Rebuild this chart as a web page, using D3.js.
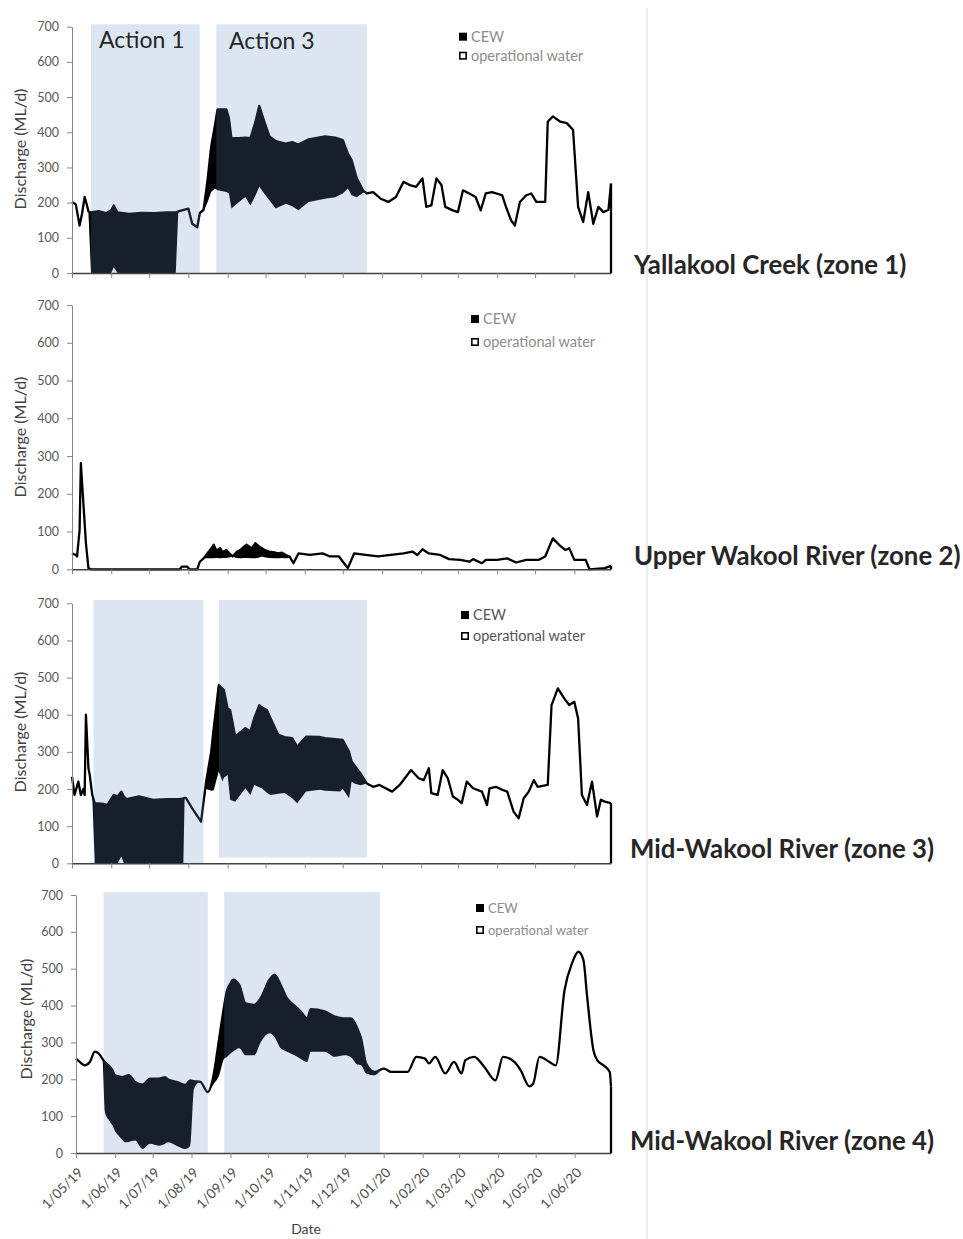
<!DOCTYPE html>
<html>
<head>
  <meta charset="utf-8">
  <title>Discharge by zone</title>
  <script src="https://d3js.org/d3.v7.min.js"></script>
  <style>
    body {
      margin: 0;
      background: #fff;
      font-family: Lato, "Open Sans", sans-serif;
    }
    .tick text {
      font-family: Lato, sans-serif;
      fill: #595959;
    }
    .zone-title {
      font-weight: bold;
      font-size: 25.8px;
      fill: #262626;
    }
    .axis-title {
      font-size: 16px;
      fill: #404040;
      text-anchor: middle;
    }
  </style>
</head>
<body>
  <div id="chart"></div>

  <script>
    const parse = d3.timeParse("%Y-%m-%d");

    // x axis: month starts and their labels
    const monthTicks = ["2019-05-01", "2019-06-01", "2019-07-01", "2019-08-01", "2019-09-01", "2019-10-01", "2019-11-01",
      "2019-12-01", "2020-01-01", "2020-02-01", "2020-03-01", "2020-04-01", "2020-05-01", "2020-06-01"];
    const tickLabels = ["1/05/19", "1/06/19", "1/07/19", "1/08/19", "1/09/19", "1/10/19", "1/11/19",
      "1/12/19", "1/01/20", "1/02/20", "1/03/20", "1/04/20", "1/05/20", "1/06/20"];
    const yTicks = [0, 100, 200, 300, 400, 500, 600, 700];

    const zoneTitles = ["Yallakool Creek (zone 1)", "Upper Wakool River (zone 2)", "Mid-Wakool River (zone 3)", "Mid-Wakool River (zone 4)"];
    const actionNames = ["Action 1", "Action 3"];
    const legendNames = ["CEW", "operational water"];

    // zone 1 - Yallakool Creek (total discharge, operational water part)
    const z1Dates = ["2019-05-01", "2019-05-04", "2019-05-07", "2019-05-09", "2019-05-11", "2019-05-13", "2019-05-14", "2019-05-16",
      "2019-05-22", "2019-05-28", "2019-06-01", "2019-06-03", "2019-06-06", "2019-06-15", "2019-06-25", "2019-07-05", "2019-07-15",
      "2019-07-22", "2019-07-24", "2019-07-29", "2019-08-01", "2019-08-04", "2019-08-08", "2019-08-10", "2019-08-13", "2019-08-16",
      "2019-08-19", "2019-08-22", "2019-08-24", "2019-08-31", "2019-09-02", "2019-09-04", "2019-09-10", "2019-09-15", "2019-09-19",
      "2019-09-23", "2019-09-26", "2019-09-30", "2019-10-04", "2019-10-09", "2019-10-17", "2019-10-22", "2019-10-27", "2019-11-04",
      "2019-11-17", "2019-11-25", "2019-12-01", "2019-12-05", "2019-12-08", "2019-12-12", "2019-12-17", "2019-12-20", "2019-12-25",
      "2019-12-31", "2020-01-06", "2020-01-12", "2020-01-18", "2020-01-23", "2020-01-28", "2020-02-02", "2020-02-05", "2020-02-09",
      "2020-02-13", "2020-02-17", "2020-02-20", "2020-02-26", "2020-03-01", "2020-03-05", "2020-03-10", "2020-03-15", "2020-03-19",
      "2020-03-23", "2020-03-28", "2020-04-05", "2020-04-08", "2020-04-12", "2020-04-15", "2020-04-19", "2020-04-24", "2020-04-28",
      "2020-05-02", "2020-05-09", "2020-05-11", "2020-05-15", "2020-05-21", "2020-05-26", "2020-05-31", "2020-06-04", "2020-06-08",
      "2020-06-12", "2020-06-16", "2020-06-20", "2020-06-24", "2020-06-28", "2020-06-30"];
    const z1Total = [202, 195, 135, 170, 216, 190, 175, 172,
      176, 170, 178, 192, 172, 168, 171, 170, 172,
      172, 175, 180, 183, 140, 130, 170, 180, 260,
      360, 420, 465, 465, 440, 383, 383, 385, 383,
      430, 475, 430, 388, 375, 368, 372, 365, 380,
      388, 385, 378, 340, 321, 270, 235, 226, 230,
      211, 202, 216, 259, 250, 245, 269, 188, 192,
      269, 250, 188, 178, 173, 235, 226, 216, 178,
      226, 230, 221, 188, 150, 135, 202, 221, 226,
      202, 202, 430, 445, 430, 426, 407, 188, 145,
      230, 140, 188, 173, 180, 254];
    const z1Oper = [202, 195, 135, 170, 216, 190, 170, 0,
      0, 0, 0, 16, 0, 0, 0, 0, 0,
      0, 172, 180, 183, 140, 130, 170, 175, 200,
      230, 240, 235, 230, 226, 183, 202, 216, 192,
      220, 245, 225, 207, 183, 197, 190, 178, 202,
      211, 215, 226, 240, 221, 215, 228, 226, 230,
      211, 202, 216, 259, 250, 245, 269, 188, 192,
      269, 250, 188, 178, 173, 235, 226, 216, 178,
      226, 230, 221, 188, 150, 135, 202, 221, 226,
      202, 202, 430, 445, 430, 426, 407, 188, 145,
      230, 140, 188, 173, 180, 254];

    // zone 2 - Upper Wakool River
    const z2Dates = ["2019-05-01", "2019-05-04", "2019-05-05", "2019-05-07", "2019-05-08", "2019-05-10", "2019-05-12", "2019-05-14",
      "2019-05-16", "2019-07-25", "2019-07-27", "2019-07-31", "2019-08-02", "2019-08-08", "2019-08-10", "2019-08-13", "2019-08-16",
      "2019-08-19", "2019-08-21", "2019-08-23", "2019-08-26", "2019-08-28", "2019-08-31", "2019-09-03", "2019-09-05", "2019-09-08",
      "2019-09-11", "2019-09-14", "2019-09-16", "2019-09-20", "2019-09-23", "2019-09-26", "2019-09-28", "2019-10-01", "2019-10-04",
      "2019-10-08", "2019-10-11", "2019-10-14", "2019-10-17", "2019-10-20", "2019-10-23", "2019-10-27", "2019-11-05", "2019-11-15",
      "2019-11-21", "2019-11-28", "2019-12-02", "2019-12-05", "2019-12-10", "2019-12-19", "2019-12-29", "2020-01-08", "2020-01-18",
      "2020-01-25", "2020-01-29", "2020-02-02", "2020-02-07", "2020-02-16", "2020-02-23", "2020-03-03", "2020-03-10", "2020-03-13",
      "2020-03-20", "2020-03-23", "2020-04-01", "2020-04-09", "2020-04-16", "2020-04-24", "2020-05-04", "2020-05-09", "2020-05-15",
      "2020-05-20", "2020-05-25", "2020-05-28", "2020-06-01", "2020-06-10", "2020-06-13", "2020-06-25", "2020-06-30"];
    const z2Total = [42, 38, 34, 104, 281, 175, 69, 3,
      0, 0, 7, 7, 0, 0, 20, 29, 42,
      55, 65, 50, 56, 45, 51, 40, 34, 45,
      51, 60, 65, 55, 69, 60, 56, 50, 47,
      45, 42, 44, 38, 34, 16, 42, 38, 42,
      34, 34, 16, 3, 42, 38, 34, 38, 42,
      47, 38, 53, 42, 38, 27, 25, 20, 27,
      16, 25, 25, 29, 18, 25, 25, 34, 82,
      65, 51, 56, 25, 25, 0, 3, 9];
    const z2Oper = [42, 38, 34, 104, 281, 175, 69, 3,
      0, 0, 7, 7, 0, 0, 20, 29, 29,
      29, 29, 30, 29, 30, 30, 32, 34, 30,
      29, 30, 30, 29, 29, 31, 34, 31, 30,
      29, 29, 30, 29, 30, 16, 42, 38, 42,
      34, 34, 16, 3, 42, 38, 34, 38, 42,
      47, 38, 53, 42, 38, 27, 25, 20, 27,
      16, 25, 25, 29, 18, 25, 25, 34, 82,
      65, 51, 56, 25, 25, 0, 3, 9];

    // zone 3 - Mid-Wakool River
    const z3Dates = ["2019-05-01", "2019-05-03", "2019-05-06", "2019-05-08", "2019-05-10", "2019-05-11", "2019-05-12", "2019-05-14",
      "2019-05-15", "2019-05-17", "2019-05-19", "2019-05-26", "2019-05-29", "2019-06-03", "2019-06-06", "2019-06-09", "2019-06-11",
      "2019-06-13", "2019-06-23", "2019-07-04", "2019-07-15", "2019-07-25", "2019-07-28", "2019-07-29", "2019-07-30", "2019-08-04",
      "2019-08-11", "2019-08-15", "2019-08-19", "2019-08-21", "2019-08-25", "2019-08-28", "2019-08-29", "2019-09-01", "2019-09-03",
      "2019-09-07", "2019-09-15", "2019-09-19", "2019-09-22", "2019-09-26", "2019-09-28", "2019-10-02", "2019-10-05", "2019-10-11",
      "2019-10-16", "2019-10-22", "2019-10-26", "2019-11-02", "2019-11-13", "2019-11-17", "2019-11-29", "2019-12-01", "2019-12-06",
      "2019-12-08", "2019-12-10", "2019-12-15", "2019-12-20", "2019-12-25", "2019-12-30", "2020-01-09", "2020-01-15", "2020-01-24",
      "2020-01-30", "2020-02-03", "2020-02-07", "2020-02-09", "2020-02-14", "2020-02-18", "2020-02-22", "2020-02-26", "2020-03-01",
      "2020-03-04", "2020-03-08", "2020-03-13", "2020-03-20", "2020-03-24", "2020-03-26", "2020-03-31", "2020-04-05", "2020-04-09",
      "2020-04-14", "2020-04-18", "2020-04-22", "2020-04-26", "2020-04-30", "2020-05-03", "2020-05-11", "2020-05-14", "2020-05-19",
      "2020-05-24", "2020-05-28", "2020-06-01", "2020-06-04", "2020-06-07", "2020-06-11", "2020-06-15", "2020-06-19", "2020-06-22",
      "2020-06-25", "2020-06-30"];
    const z3Total = [233, 184, 220, 184, 200, 184, 400, 256,
      238, 184, 162, 160, 157, 184, 180, 193, 180,
      173, 180, 171, 173, 173, 175, 176, 176, 148,
      112, 220, 300, 364, 480, 470, 467, 417, 413,
      341, 364, 355, 390, 426, 420, 413, 390, 346,
      340, 337, 314, 341, 340, 337, 333, 332, 300,
      274, 265, 242, 215, 206, 211, 193, 211, 251,
      229, 224, 256, 189, 184, 251, 229, 180, 171,
      162, 220, 202, 193, 157, 202, 206, 198, 193,
      139, 121, 175, 193, 224, 206, 211, 426, 471,
      444, 426, 435, 390, 184, 157, 220, 126, 171,
      166, 162];
    const z3Oper = [233, 184, 220, 184, 200, 184, 400, 256,
      238, 184, 0, 0, 0, 0, 0, 18, 0,
      0, 0, 0, 0, 0, 0, 176, 176, 148,
      112, 200, 195, 197, 247, 220, 230, 238, 171,
      166, 202, 184, 211, 205, 202, 190, 184, 187,
      189, 175, 162, 193, 198, 195, 193, 200, 175,
      220, 215, 210, 215, 206, 211, 193, 211, 251,
      229, 224, 256, 189, 184, 251, 229, 180, 171,
      162, 220, 202, 193, 157, 202, 206, 198, 193,
      139, 121, 175, 193, 224, 206, 211, 426, 471,
      444, 426, 435, 390, 184, 157, 220, 126, 171,
      166, 162];

    // zone 4 - Mid-Wakool River
    const z4Dates = ["2019-05-01", "2019-05-04", "2019-05-08", "2019-05-12", "2019-05-16", "2019-05-19", "2019-05-22", "2019-05-24",
      "2019-05-28", "2019-05-30", "2019-06-01", "2019-06-04", "2019-06-07", "2019-06-09", "2019-06-12", "2019-06-17", "2019-06-23",
      "2019-06-29", "2019-07-06", "2019-07-11", "2019-07-13", "2019-07-20", "2019-07-27", "2019-07-31", "2019-08-03", "2019-08-08",
      "2019-08-14", "2019-08-18", "2019-08-23", "2019-08-27", "2019-08-29", "2019-09-01", "2019-09-03", "2019-09-08", "2019-09-13",
      "2019-09-20", "2019-09-25", "2019-10-02", "2019-10-06", "2019-10-11", "2019-10-16", "2019-10-22", "2019-10-27", "2019-11-01",
      "2019-11-04", "2019-11-15", "2019-11-23", "2019-12-01", "2019-12-06", "2019-12-11", "2019-12-14", "2019-12-18", "2019-12-25",
      "2020-01-01", "2020-01-07", "2020-01-20", "2020-01-27", "2020-02-03", "2020-02-06", "2020-02-11", "2020-02-19", "2020-02-26",
      "2020-03-03", "2020-03-06", "2020-03-13", "2020-03-21", "2020-03-30", "2020-04-05", "2020-04-14", "2020-04-19", "2020-04-26",
      "2020-04-29", "2020-05-04", "2020-05-12", "2020-05-17", "2020-05-24", "2020-05-30", "2020-06-04", "2020-06-08", "2020-06-11",
      "2020-06-16", "2020-06-19", "2020-06-24", "2020-06-29", "2020-06-30"];
    const z4Total = [256, 247, 238, 247, 275, 270, 256, 247,
      234, 225, 211, 208, 206, 208, 211, 193, 186,
      202, 202, 206, 200, 193, 185, 197, 195, 193,
      165, 202, 311, 400, 438, 460, 470, 456, 406,
      402, 420, 470, 484, 456, 420, 400, 384, 365,
      390, 384, 370, 365, 365, 338, 311, 243, 220,
      229, 220, 220, 261, 256, 243, 261, 216, 247,
      216, 252, 261, 234, 197, 261, 247, 225, 181,
      188, 261, 247, 238, 442, 515, 546, 524, 424,
      279, 252, 238, 220, 180];
    const z4Oper = [256, 247, 238, 247, 275, 270, 256, 111,
      85, 75, 60, 47, 35, 29, 30, 34, 11,
      25, 20, 25, 29, 20, 11, 20, 175, 193,
      165, 184, 211, 256, 260, 270, 275, 284, 265,
      265, 300, 325, 315, 284, 275, 265, 255, 247,
      275, 275, 261, 265, 260, 240, 238, 216, 211,
      229, 220, 220, 261, 256, 243, 261, 216, 247,
      216, 252, 261, 234, 197, 261, 247, 225, 181,
      188, 261, 247, 238, 442, 515, 546, 524, 424,
      279, 252, 238, 220, 180];

    // action periods (start, end) per zone
    const z1Actions = [["2019-05-16", "2019-08-10"], ["2019-08-23", "2019-12-20"]];
    const z3Actions = [["2019-05-18", "2019-08-13"], ["2019-08-25", "2019-12-20"]];
    const z4Actions = [["2019-05-23", "2019-08-14"], ["2019-08-27", "2019-12-29"]];

    const panels = [
      { dates: z1Dates, total: z1Total, oper: z1Oper, actions: z1Actions },
      { dates: z2Dates, total: z2Total, oper: z2Oper, actions: [] },
      { dates: z3Dates, total: z3Total, oper: z3Oper, actions: z3Actions },
      { dates: z4Dates, total: z4Total, oper: z4Oper, actions: z4Actions }
    ];

    // page positions of each panel
    const layout = [
      { x0: 72, x1: 611, yTop: 26.7, yBot: 273, bandTop: 707, bandLow: [0, 0], titleX: 634, titleY: 274,
        axisTitle: [20, 149], legX: 459, legY: [36.7, 55.7], legSize: 14.5, legColor: "#8c8c8c", actionLabels: [[99, 48], [229, 49]] },
      { x0: 72, x1: 611, yTop: 305, yBot: 569.3, bandTop: 707, bandLow: [0, 0], titleX: 634, titleY: 565,
        axisTitle: [20, 437], legX: 471, legY: [319, 342], legSize: 14.5, legColor: "#8c8c8c" },
      { x0: 72, x1: 611, yTop: 603.3, yBot: 863.3, bandTop: 709, bandLow: [0, 15], titleX: 630, titleY: 858,
        axisTitle: [20, 732], legX: 461, legY: [615, 636], legSize: 14.5, legColor: "#555" },
      { x0: 76, x1: 611, yTop: 895, yBot: 1153, bandTop: 708, bandLow: [0, 0], titleX: 630, titleY: 1150,
        axisTitle: [26, 1019], legX: 476, legY: [908, 930], legSize: 13, legColor: "#8c8c8c", smooth: true, labels: true }
    ];

    const svg = d3.select("#chart")
      .append("svg")
      .attr("width", 963)
      .attr("height", 1239);

    // page edge line
    svg.append("line")
      .attr("x1", 647).attr("x2", 647)
      .attr("y1", 8).attr("y2", 1239)
      .attr("stroke", "#d9d9d9")
      .attr("stroke-width", 1);

    panels.forEach((p, i) => {
      const L = layout[i];
      const g = svg.append("g");

      const x = d3.scaleTime()
        .domain([parse("2019-05-01"), parse("2020-06-30")])
        .range([L.x0, L.x1]);
      const y = d3.scaleLinear()
        .domain([0, 700])
        .range([L.yBot, L.yTop]);

      const rows = p.dates.map((d, j) => ({ date: parse(d), total: p.total[j], oper: p.oper[j] }));
      const curve = L.smooth ? d3.curveMonotoneX : d3.curveLinear;

      // operational water (white) and CEW (black) stacked
      g.append("path")
        .datum(rows)
        .attr("fill", "#fff")
        .attr("d", d3.area().x(d => x(d.date)).y0(y(0)).y1(d => y(d.oper)).curve(curve));

      g.append("path")
        .datum(rows)
        .attr("fill", "#000")
        .attr("d", d3.area().x(d => x(d.date)).y0(d => y(d.oper)).y1(d => y(d.total)).curve(curve));

      g.append("path")
        .datum(rows)
        .attr("fill", "none")
        .attr("stroke", "#000")
        .attr("stroke-width", 2.3)
        .attr("stroke-linejoin", "round")
        .attr("d", d3.line().x(d => x(d.date)).y(d => y(d.total)).curve(curve));

      const last = rows[rows.length - 1];
      g.append("line")
        .attr("x1", x(last.date)).attr("x2", x(last.date))
        .attr("y1", y(last.total)).attr("y2", y(0))
        .attr("stroke", "#000")
        .attr("stroke-width", 2.3);

      // action periods, translucent blue over the flow
      p.actions.forEach((a, k) => {
        g.append("rect")
          .attr("x", x(parse(a[0])))
          .attr("width", x(parse(a[1])) - x(parse(a[0])))
          .attr("y", y(L.bandTop))
          .attr("height", y(L.bandLow[k]) - y(L.bandTop))
          .attr("fill", "rgb(98,143,197)")
          .attr("fill-opacity", 0.224);
      });

      if (L.actionLabels) {
        actionNames.forEach((name, k) => {
          g.append("text")
            .attr("x", L.actionLabels[k][0])
            .attr("y", L.actionLabels[k][1])
            .attr("font-size", 23)
            .attr("fill", "#262626")
            .text(name);
        });
      }

      // y axis
      const yAxis = g.append("g")
        .attr("transform", `translate(${L.x0},0)`)
        .call(d3.axisLeft(y).tickValues(yTicks).tickSize(5).tickSizeOuter(0).tickPadding(8));
      yAxis.select(".domain").attr("stroke", "#868686");
      yAxis.selectAll(".tick line").attr("stroke", "#868686");
      yAxis.selectAll(".tick text").attr("font-size", 12.5);

      // x axis
      const xAxis = g.append("g")
        .attr("transform", `translate(0,${L.yBot})`)
        .call(d3.axisBottom(x)
          .tickValues(monthTicks.map(parse))
          .tickSize(5)
          .tickSizeOuter(0)
          .tickFormat((d, k) => L.labels ? tickLabels[k] : ""));
      xAxis.select(".domain").attr("stroke", "#404040").attr("stroke-width", 1.6);
      xAxis.selectAll(".tick line").attr("stroke", "#868686");
      if (L.labels) {
        xAxis.selectAll(".tick text")
          .attr("font-size", 13.5)
          .style("fill", "#4d4d4d")
          .attr("text-anchor", "end")
          .attr("x", 0).attr("y", 0).attr("dy", "0.35em")
          .attr("transform", "translate(4,17) rotate(-45)");
      }

      g.append("text")
        .attr("class", "axis-title")
        .attr("transform", `translate(${L.axisTitle[0]},${L.axisTitle[1]}) rotate(-90)`)
        .attr("dy", "0.35em")
        .text("Discharge (ML/d)");

      // legend
      const leg = g.append("g");
      leg.append("rect")
        .attr("x", L.legX).attr("y", L.legY[0] - 4)
        .attr("width", 8).attr("height", 8)
        .attr("fill", "#000");
      leg.append("rect")
        .attr("x", L.legX + 0.8).attr("y", L.legY[1] - 3.2)
        .attr("width", 6.4).attr("height", 6.4)
        .attr("fill", "#fff")
        .attr("stroke", "#000")
        .attr("stroke-width", 1.6);
      legendNames.forEach((name, k) => {
        leg.append("text")
          .attr("x", L.legX + 12)
          .attr("y", L.legY[k])
          .attr("dy", "0.35em")
          .attr("font-size", L.legSize)
          .attr("fill", L.legColor)
          .text(name);
      });

      g.append("text")
        .attr("class", "zone-title")
        .attr("x", L.titleX)
        .attr("y", L.titleY)
        .text(zoneTitles[i]);
    });

    svg.append("text")
      .attr("class", "axis-title")
      .attr("x", 306)
      .attr("y", 1230)
      .attr("dy", "0.3em")
      .style("font-size", "14px")
      .text("Date");
  </script>
</body>
</html>
